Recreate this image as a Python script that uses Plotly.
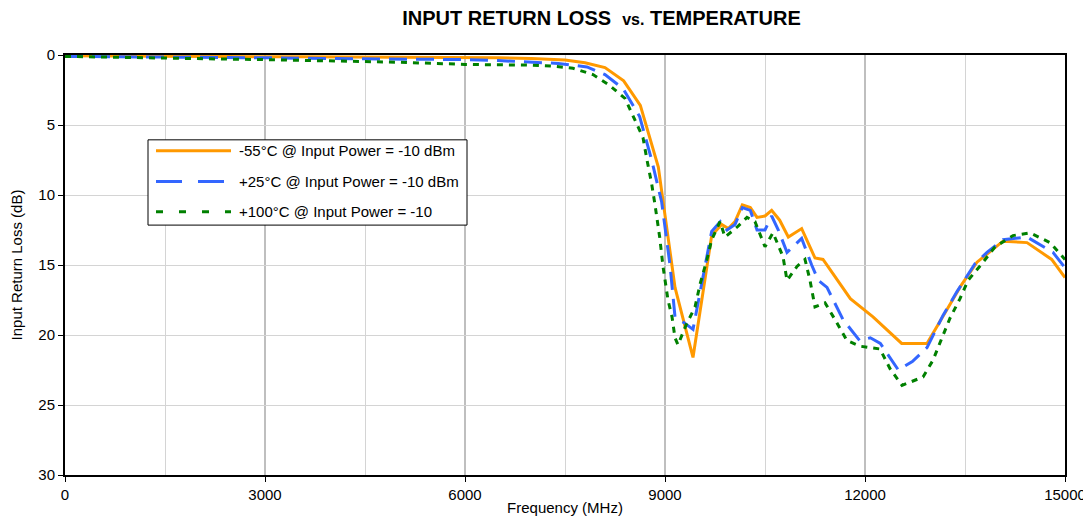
import plotly.graph_objects as go

# -55°C
freq_m55 = [0, 500, 1000, 1500, 2000, 2500, 3000, 3500, 4000, 4500, 5000, 5500, 6000, 6500, 7000, 7500,
            7800, 8100, 8380, 8630, 8900, 9150, 9420, 9700, 9850, 9950, 10050, 10160, 10280, 10380,
            10500, 10600, 10720, 10850, 11050, 11250, 11370, 11780, 12120, 12550, 12930, 13170, 13450,
            13680, 14070, 14430, 14800, 15000]
rl_m55 = [0.05, 0.07, 0.08, 0.1, 0.1, 0.12, 0.12, 0.13, 0.14, 0.15, 0.15, 0.15, 0.17, 0.2, 0.25, 0.35,
          0.55, 0.9, 1.85, 3.6, 8.0, 16.6, 21.6, 12.9, 12.1, 12.4, 11.9, 10.7, 10.9, 11.6,
          11.5, 11.1, 11.8, 13.0, 12.4, 14.5, 14.6, 17.4, 18.7, 20.6, 20.6, 18.7, 16.4,
          14.8, 13.3, 13.4, 14.6, 15.9]

# +25°C
freq_p25 = [0, 1000, 2000, 3000, 4000, 5000, 6000, 6500, 7000, 7400, 7830, 8100, 8370, 8620, 8800, 8950,
            9075, 9150, 9280, 9420, 9700, 9830, 9930, 10050, 10160, 10280, 10380, 10500, 10600, 10700,
            10830, 11050, 11200, 11300, 11430, 11670, 11920, 12080, 12230, 12500, 12710, 12930, 13170,
            13380, 13650, 13830, 14070, 14430, 14820, 15000]
rl_p25 = [0.1, 0.12, 0.15, 0.2, 0.25, 0.27, 0.33, 0.4, 0.5, 0.6, 0.85, 1.4, 2.4, 4.4, 7.5, 10.5,
          15.0, 18.7, 19.1, 19.6, 12.6, 11.9, 12.5, 12.1, 10.9, 11.1, 12.5, 12.5, 11.5, 12.5,
          14.1, 13.1, 15.0, 16.1, 16.6, 18.9, 20.4, 20.2, 20.6, 22.5, 21.9, 20.9, 18.6,
          16.9, 14.9, 14.1, 13.2, 13.0, 14.1, 15.2]

# +100°C
freq_p100 = [0, 500, 1000, 1500, 2000, 2500, 3000, 3500, 4000, 4500, 5000, 5500, 6000, 6500, 7000, 7300,
             7620, 7920, 8150, 8400, 8550, 8670, 8730, 8800, 8850, 8920, 8970, 9045, 9105, 9150, 9195,
             9315, 9450, 9530, 9630, 9700, 9825, 9900, 10080, 10230, 10350, 10500, 10620, 10770, 10830,
             10980, 11100, 11175, 11250, 11400, 11550, 11730, 11925, 12120, 12225, 12375, 12555, 12870,
             13020, 13155, 13275, 13425, 13545, 13755, 13950, 14220, 14475, 14775, 15000]
rl_p100 = [0.1, 0.15, 0.2, 0.24, 0.27, 0.3, 0.33, 0.36, 0.42, 0.47, 0.52, 0.6, 0.67, 0.7, 0.72, 0.79,
           0.95, 1.4, 2.1, 3.1, 4.6, 5.9, 7.5, 9.2, 10.7, 13.0, 15.1, 17.5, 18.7, 20.2, 20.7,
           19.3, 18.0, 16.3, 14.6, 13.2, 11.9, 13.0, 12.3, 11.6, 11.9, 13.7, 12.7, 14.4, 16.1,
           15.1, 14.6, 16.1, 18.0, 17.7, 18.9, 20.4, 20.8, 20.9, 21.0, 22.4, 23.6, 23.0,
           21.8, 20.2, 18.8, 17.4, 16.1, 14.9, 13.7, 12.9, 12.7, 13.4, 14.6]

series_names = ["-55°C @ Input Power = -10 dBm",
                "+25°C @ Input Power = -10 dBm",
                "+100°C @ Input Power = -10"]

x_ticks = [0, 3000, 6000, 9000, 12000, 15000]
y_ticks = [0, 5, 10, 15, 20, 25, 30]

FONT = "Liberation Sans, Arial, sans-serif"
colors = ["#FF9900", "#3366FF", "#008000"]
plot_dash = ["solid", "18px,9px", "6px,6px"]
legend_dash = ["solid", "26px,16px", "7px,16px"]

fig = go.Figure()
for fx, fy, name, c, d in zip([freq_m55, freq_p25, freq_p100], [rl_m55, rl_p25, rl_p100],
                              series_names, colors, plot_dash):
    fig.add_trace(go.Scatter(x=fx, y=fy, mode="lines", name=name,
                             line=dict(color=c, width=3, dash=d), showlegend=False))

# custom legend (box, line samples, labels)
shapes = [dict(type="rect", xref="paper", yref="paper", x0=0.083, x1=0.402, y0=0.595, y1=0.798,
               line=dict(color="black", width=1), fillcolor="white", layer="above")]
annotations = []
legend_y = [0.772, 0.699, 0.627]
for ly, name, c, d in zip(legend_y, series_names, colors, legend_dash):
    shapes.append(dict(type="line", xref="paper", yref="paper", x0=0.091, x1=0.166, y0=ly, y1=ly,
                       line=dict(color=c, width=3, dash=d), layer="above"))
    annotations.append(dict(text=name, xref="paper", yref="paper", x=0.172, y=ly,
                            xanchor="left", yanchor="middle", showarrow=False,
                            font=dict(size=15, family=FONT, color="black")))

fig.update_layout(
    width=1083, height=512,
    margin=dict(l=57, r=26, t=47, b=45),
    paper_bgcolor="white", plot_bgcolor="white",
    font=dict(family=FONT, size=15, color="black"),
    title=dict(text="<b>INPUT RETURN LOSS  <span style='font-size:16px'>vs.</span> TEMPERATURE</b>",
               x=0.548, xanchor="center", y=0.98, yanchor="middle",
               font=dict(size=20, family=FONT)),
    showlegend=False,
    shapes=shapes,
    annotations=annotations,
)
fig.update_xaxes(
    range=[0, 15000], tickvals=x_ticks, ticktext=[str(v) for v in x_ticks],
    showgrid=True, gridcolor="#BFBFBF", gridwidth=2,
    minor=dict(dtick=1500, showgrid=True, gridcolor="#D4D4D4", gridwidth=1, ticks=""),
    showline=True, linecolor="black", linewidth=2, mirror=True,
    ticks="outside", ticklen=5, tickcolor="black", tickfont=dict(size=15),
    title=dict(text="Frequency (MHz)", standoff=0, font=dict(size=15)),
    zeroline=False, automargin=False,
)
fig.update_yaxes(
    range=[30, 0], tickvals=y_ticks, ticktext=[str(v) for v in y_ticks],
    showgrid=True, gridcolor="#D4D4D4", gridwidth=1,
    showline=True, linecolor="black", linewidth=2, mirror=True,
    ticks="outside", ticklen=5, tickcolor="black", tickfont=dict(size=15),
    title=dict(text="Input Return Loss (dB)", standoff=12, font=dict(size=15)),
    zeroline=False, automargin=False,
)

fig.write_html("out.html")
